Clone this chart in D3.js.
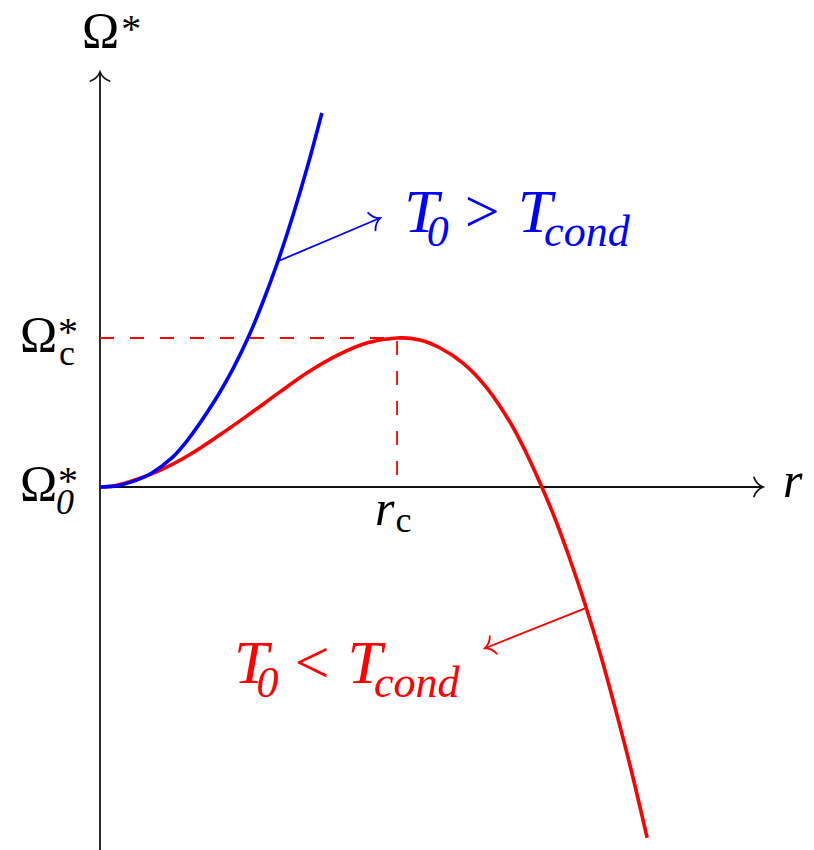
<!DOCTYPE html>
<html>
<head>
<meta charset="utf-8">
<script src="https://cdn.jsdelivr.net/npm/d3@7"></script>
<style>
  html, body { margin: 0; padding: 0; background: #fff; }
  svg { display: block; }
</style>
</head>
<body>
<svg id="chart" width="814" height="850"></svg>
<script>
// ---- data (r in units of r_c, Omega* in units of Omega*_c) ----
const rBlue     = [0, 0.050, 0.104, 0.172, 0.239, 0.293, 0.380, 0.448, 0.498, 0.549, 0.599, 0.650, 0.697, 0.747];
const omegaBlue = [0, 0.006, 0.033, 0.091, 0.190, 0.310, 0.560, 0.795, 1.000, 1.245, 1.515, 1.825, 2.140, 2.510];

const rRed     = [0, 0.050, 0.100, 0.200, 0.300, 0.400, 0.500, 0.600, 0.700, 0.800, 0.900, 1.000, 1.077, 1.145, 1.222, 1.300, 1.380, 1.431, 1.481, 1.532, 1.582, 1.633, 1.684, 1.734, 1.785, 1.842];
const omegaRed = [0, 0.009, 0.035, 0.110, 0.215, 0.345, 0.485, 0.630, 0.770, 0.885, 0.968, 1.000, 0.987, 0.933, 0.832, 0.671, 0.436, 0.245, 0.028, -0.213, -0.485, -0.787, -1.119, -1.482, -1.874, -2.354];

const rTicks = [1];           // r_c
const rTickLabels = ["r", "c"];
const omegaTicks = [0, 1];    // Omega*_0, Omega*_c
const omegaTickSubs = ["0", "c"];
const axisLabels = ["Ω", "r"];
const seriesLabels = [">", "<"];
const seriesColors = ["#0000ff", "#ff0000"];

const FONT = "'Liberation Serif', serif";

// ---- scales ----
const svg = d3.select("#chart");
const x = d3.scaleLinear().domain([0, 2.232]).range([100, 763]);
const y = d3.scaleLinear().domain([-2.436, 2.785]).range([850, 72]);

// markers
const defs = svg.append("defs");
function mk(id, color) {
  defs.append("marker").attr("id", id)
    .attr("viewBox", "-12 -12 14 24").attr("refX", 0).attr("refY", 0)
    .attr("markerWidth", 14).attr("markerHeight", 24)
    .attr("markerUnits", "userSpaceOnUse").attr("orient", "auto")
    .append("path")
    .attr("d", "M-9,-9.5 C-7,-4 -2.5,-1 0,0 C-2.5,1 -7,4 -9,9.5")
    .attr("fill", "none").attr("stroke", color).attr("stroke-width", 1.8)
    .attr("stroke-linecap", "round");
}
mk("arrK", "#111");
mk("arrB", "#0000ff");
mk("arrR", "#ff0000");

// ---- axes ----
const xAxis = d3.axisBottom(x).tickValues([]).tickSizeOuter(0);
const yAxis = d3.axisLeft(y).tickValues([]).tickSizeOuter(0);
const gx = svg.append("g").attr("transform", `translate(0,${y(0)})`).call(xAxis);
const gy = svg.append("g").attr("transform", `translate(${x(0)},0)`).call(yAxis);
[gx, gy].forEach(g => g.select(".domain").attr("stroke", "#111").attr("stroke-width", 1.8));
gx.select(".domain").attr("d", `M${x(0)},0H${x.range()[1]}`).attr("marker-end", "url(#arrK)");
gy.select(".domain").attr("d", `M0,${y.range()[0]}V${y.range()[1]}`).attr("marker-end", "url(#arrK)");

// ---- dashed guides ----
const rc = rTicks[0], oc = omegaTicks[1];
svg.append("path")
  .attr("d", `M${x(0)},${y(oc)}H${x(rc)}V${y(0)}`)
  .attr("fill", "none").attr("stroke", "#ff0000").attr("stroke-width", 1.8)
  .attr("stroke-dasharray", "14,16");

// ---- curves ----
const line = d3.line().x(d => x(d[0])).y(d => y(d[1])).curve(d3.curveCatmullRom.alpha(0.5));
svg.append("path").datum(rRed.map((r, i) => [r, omegaRed[i]]))
  .attr("d", line).attr("fill", "none").attr("stroke", seriesColors[1]).attr("stroke-width", 3.6);
svg.append("path").datum(rBlue.map((r, i) => [r, omegaBlue[i]]))
  .attr("d", line).attr("fill", "none").attr("stroke", seriesColors[0]).attr("stroke-width", 3.6);

// ---- annotation arrows ----
svg.append("line")
  .attr("x1", x(rBlue[10])).attr("y1", y(omegaBlue[10]))
  .attr("x2", x(0.943)).attr("y2", y(1.805))
  .attr("stroke", seriesColors[0]).attr("stroke-width", 1.8).attr("marker-end", "url(#arrB)");
svg.append("line")
  .attr("x1", x(1.639)).attr("y1", y(-0.810))
  .attr("x2", x(1.296)).attr("y2", y(-1.082))
  .attr("stroke", seriesColors[1]).attr("stroke-width", 1.8).attr("marker-end", "url(#arrR)");

// ---- series labels  T_0 > T_cond ----
function seriesLabel(rx, oy, rel, color) {
  const t = svg.append("text").attr("x", x(rx)).attr("y", y(oy))
    .attr("fill", color).attr("font-size", 62).attr("font-family", FONT);
  t.append("tspan").attr("font-style", "italic").text("T");
  t.append("tspan").attr("font-style", "italic").attr("font-size", 44)
    .attr("dx", -12).attr("dy", 14).text("0");
  t.append("tspan").attr("dx", 16).attr("dy", -14).text(rel);
  t.append("tspan").attr("font-style", "italic").attr("dx", 18).text("T");
  t.append("tspan").attr("font-style", "italic").attr("font-size", 44)
    .attr("dx", -8).attr("dy", 14).text("cond");
}
seriesLabel(1.024, 1.711, seriesLabels[0], seriesColors[0]);
seriesLabel(0.451, -1.315, seriesLabels[1], seriesColors[1]);

// ---- axis labels ----
const topLbl = svg.append("text").attr("x", 82).attr("y", 47).attr("font-size", 50)
  .attr("font-family", FONT).attr("fill", "#000");
topLbl.append("tspan").text(axisLabels[0]);
topLbl.append("tspan").attr("font-size", 40).attr("dx", 2).attr("dy", -5).text("*");

svg.append("text").attr("x", x.range()[1] + 20).attr("y", y(0) + 10).attr("font-family", FONT)
  .attr("font-size", 50).attr("font-style", "italic").attr("fill", "#000").text(axisLabels[1]);

// Omega tick labels on the left
omegaTicks.forEach((v, i) => {
  const by = y(v) + 13;
  svg.append("text").attr("x", 20).attr("y", by).attr("font-size", 50).attr("font-family", FONT)
    .attr("fill", "#000").text(axisLabels[0]);
  svg.append("text").attr("x", 58).attr("y", by - 6).attr("font-size", 40).attr("font-family", FONT)
    .attr("fill", "#000").text("*");
  svg.append("text").attr("x", i === 0 ? 56 : 59).attr("y", by + 14).attr("font-family", FONT)
    .attr("font-size", 36).attr("font-style", i === 0 ? "italic" : "normal")
    .attr("fill", "#000").text(omegaTickSubs[i]);
});

// r_c tick label
rTicks.forEach(v => {
  const t = svg.append("text").attr("x", x(v) - 22).attr("y", y(0) + 38).attr("font-family", FONT)
    .attr("font-size", 50).attr("fill", "#000");
  t.append("tspan").attr("font-style", "italic").text(rTickLabels[0]);
  t.append("tspan").attr("font-size", 36).attr("dx", 1).attr("dy", 7).text(rTickLabels[1]);
});
</script>
</body>
</html>
